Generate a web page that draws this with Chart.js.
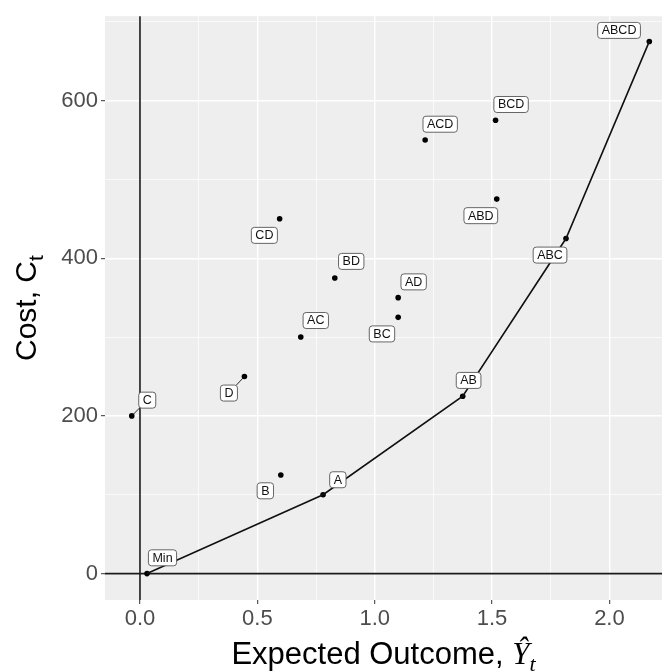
<!DOCTYPE html>
<html>
<head>
<meta charset="utf-8">
<script src="https://cdn.jsdelivr.net/npm/chart.js@4.4.0/dist/chart.umd.min.js"></script>
<style>
  html, body { margin: 0; padding: 0; background: #fff; }
  #wrap { width: 666px; height: 672px; }
</style>
</head>
<body>
<div id="wrap"><canvas id="costChart" width="666" height="672"></canvas></div>
<script>
// treatment combinations and their values
const combos = ['Min', 'A', 'B', 'C', 'D', 'AB', 'AC', 'AD', 'BC', 'BD', 'CD', 'ABC', 'ABD', 'ACD', 'BCD', 'ABCD'];
const expectedOutcome = [0.03, 0.78, 0.60, -0.035, 0.445, 1.375, 0.685, 1.10, 1.10, 0.83, 0.595, 1.815, 1.52, 1.215, 1.515, 2.17];
const cost = [0, 100, 125, 200, 250, 225, 300, 350, 325, 375, 450, 425, 475, 550, 575, 675];
const frontier = ['Min', 'A', 'AB', 'ABC', 'ABCD'];
// label anchors (data units), as placed by the repel in the original
const labelX = [0.096, 0.843, 0.534, 0.031, 0.379, 1.40, 0.749, 1.166, 1.031, 0.90, 0.530, 1.747, 1.452, 1.279, 1.581, 2.041];
const labelY = [20, 119, 105, 220, 229, 245, 321, 370, 304, 396, 429, 404, 454, 570, 595, 689];
const segmentLabels = ['C', 'D'];
const xTicks = [0, 0.5, 1, 1.5, 2];
const yTicks = [0, 200, 400, 600];

const FONT = '"Liberation Sans", Arial, sans-serif';

function isMajor(list, v) {
    return list.some(t => Math.abs(t - v) < 1e-6);
}

const allPoints = combos.map((c, i) => ({ x: expectedOutcome[i], y: cost[i] }));
const frontierPoints = frontier.map(c => {
    const i = combos.indexOf(c);
    return { x: expectedOutcome[i], y: cost[i] };
});

const panelPlugin = {
    id: 'panel',
    beforeDraw(chart) {
        const { ctx, chartArea: a } = chart;
        ctx.save();
        ctx.fillStyle = '#ffffff';
        ctx.fillRect(0, 0, chart.width, chart.height);
        ctx.fillStyle = '#eeeeee';
        ctx.fillRect(a.left, a.top, a.right - a.left, a.bottom - a.top);
        ctx.restore();
    },
    beforeDatasetsDraw(chart) {
        const { ctx, chartArea: a, scales } = chart;
        const x0 = scales.x.getPixelForValue(0);
        const y0 = scales.y.getPixelForValue(0);
        ctx.save();
        ctx.strokeStyle = '#1a1a1a';
        ctx.lineWidth = 1.6;
        ctx.beginPath();
        ctx.moveTo(x0, a.top);
        ctx.lineTo(x0, a.bottom);
        ctx.moveTo(a.left, y0);
        ctx.lineTo(a.right, y0);
        ctx.stroke();
        ctx.restore();
    }
};

const labelPlugin = {
    id: 'repelLabels',
    afterDatasetsDraw(chart) {
        const { ctx, scales } = chart;
        ctx.save();
        ctx.font = '12.5px ' + FONT;
        ctx.textAlign = 'center';
        ctx.textBaseline = 'middle';
        combos.forEach((name, i) => {
            const px = scales.x.getPixelForValue(expectedOutcome[i]);
            const py = scales.y.getPixelForValue(cost[i]);
            const lx = scales.x.getPixelForValue(labelX[i]);
            const ly = scales.y.getPixelForValue(labelY[i]);
            const w = ctx.measureText(name).width + 8;
            const h = 16;
            if (segmentLabels.includes(name)) {
                // clip the segment at the box edge
                const dx = px - lx, dy = py - ly;
                const t = Math.min((w / 2) / Math.abs(dx || 1e-9), (h / 2) / Math.abs(dy || 1e-9));
                ctx.strokeStyle = '#111';
                ctx.lineWidth = 0.9;
                ctx.beginPath();
                ctx.moveTo(px, py);
                ctx.lineTo(lx + dx * t, ly + dy * t);
                ctx.stroke();
            }
            ctx.beginPath();
            ctx.roundRect(lx - w / 2, ly - h / 2, w, h, 3);
            ctx.fillStyle = '#ffffff';
            ctx.fill();
            ctx.strokeStyle = '#555';
            ctx.lineWidth = 0.9;
            ctx.stroke();
            ctx.fillStyle = '#111';
            ctx.fillText(name, lx, ly + 0.5);
        });
        ctx.restore();
    }
};

const titlePlugin = {
    id: 'axisTitles',
    afterDraw(chart) {
        const { ctx, chartArea: a } = chart;
        ctx.save();
        ctx.fillStyle = '#000';
        ctx.textBaseline = 'alphabetic';
        ctx.textAlign = 'left';

        // x title: Expected Outcome, Ŷt
        const main = 'Expected Outcome, ';
        ctx.font = '31px ' + FONT;
        const wMain = ctx.measureText(main).width;
        ctx.font = 'italic 31px "Liberation Serif", serif';
        const wY = ctx.measureText('\u0176').width;
        ctx.font = 'italic 22px "Liberation Serif", serif';
        const wT = ctx.measureText('t').width;
        let x = (a.left + a.right) / 2 - (wMain + wY + wT) / 2;
        const base = 664;
        ctx.font = '31px ' + FONT;
        ctx.fillText(main, x, base);
        x += wMain;
        ctx.font = 'italic 31px "Liberation Serif", serif';
        ctx.fillText('\u0176', x, base);
        x += wY;
        ctx.font = 'italic 22px "Liberation Serif", serif';
        ctx.fillText('t', x, base + 7);

        // y title: Cost, Ct
        ctx.translate(36, (a.top + a.bottom) / 2);
        ctx.rotate(-Math.PI / 2);
        ctx.font = '30px ' + FONT;
        const wc = ctx.measureText('Cost, C').width;
        ctx.font = '21px ' + FONT;
        const ws = ctx.measureText('t').width;
        let yx = -(wc + ws) / 2;
        ctx.font = '30px ' + FONT;
        ctx.fillText('Cost, C', yx, 0);
        ctx.font = '21px ' + FONT;
        ctx.fillText('t', yx + wc, 7);
        ctx.restore();
    }
};

const ctx = document.getElementById('costChart').getContext('2d');
const chart = new Chart(ctx, {
    type: 'scatter',
    data: {
        datasets: [{
            label: 'Frontier',
            data: frontierPoints,
            showLine: true,
            borderColor: '#111',
            borderWidth: 1.6,
            pointRadius: 0,
            fill: false
        }, {
            label: 'Combinations',
            data: allPoints,
            backgroundColor: '#000',
            borderColor: '#000',
            pointRadius: 2.8,
            pointBorderWidth: 0
        }]
    },
    options: {
        responsive: false,
        animation: false,
        layout: { padding: { top: 14, right: 0, left: 0, bottom: 0 } },
        plugins: {
            legend: { display: false },
            tooltip: { enabled: false }
        },
        scales: {
            x: {
                type: 'linear',
                min: -0.149,
                max: 2.224,
                afterFit: function(scale) { scale.height = 72; },
                border: { display: false },
                grid: {
                    color: '#ffffff',
                    lineWidth: c => isMajor(xTicks, c.tick.value) ? 1.4 : 0.7,
                    tickColor: c => isMajor(xTicks, c.tick.value) ? '#333' : 'rgba(0,0,0,0)',
                    tickLength: 4,
                    tickWidth: 1
                },
                ticks: {
                    stepSize: 0.25,
                    includeBounds: false,
                    autoSkip: false,
                    maxRotation: 0,
                    padding: 2,
                    color: '#4d4d4d',
                    font: { family: FONT, size: 22 },
                    callback: v => isMajor(xTicks, v) ? v.toFixed(1) : ''
                }
            },
            y: {
                type: 'linear',
                min: -33.5,
                max: 707,
                afterFit: function(scale) { scale.width = 105; },
                border: { display: false },
                grid: {
                    color: '#ffffff',
                    lineWidth: c => isMajor(yTicks, c.tick.value) ? 1.4 : 0.7,
                    tickColor: c => isMajor(yTicks, c.tick.value) ? '#333' : 'rgba(0,0,0,0)',
                    tickLength: 4,
                    tickWidth: 1
                },
                ticks: {
                    stepSize: 100,
                    includeBounds: false,
                    autoSkip: false,
                    padding: 3,
                    color: '#4d4d4d',
                    font: { family: FONT, size: 22 },
                    callback: v => isMajor(yTicks, v) ? String(v) : ''
                }
            }
        }
    },
    plugins: [panelPlugin, labelPlugin, titlePlugin]
});
</script>
</body>
</html>
